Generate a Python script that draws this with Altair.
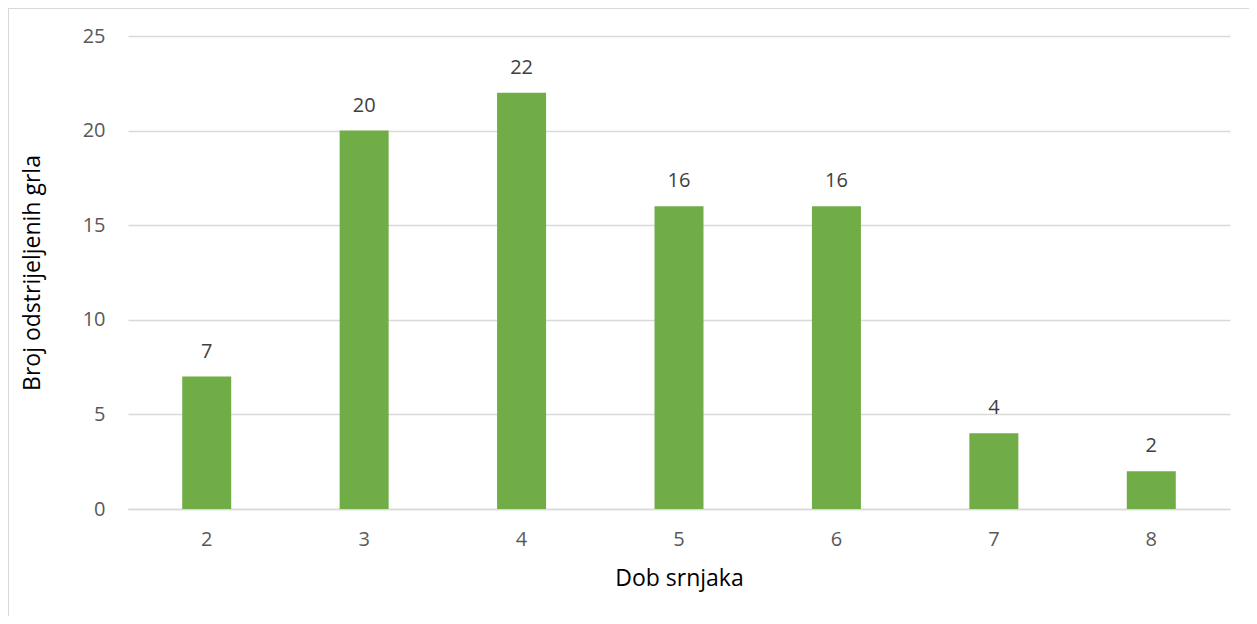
import altair as alt
import pandas as pd

ages = ["2", "3", "4", "5", "6", "7", "8"]
counts = [7, 20, 22, 16, 16, 4, 2]

df = pd.DataFrame({"dob": ages, "broj": counts})
FONT = "Open Sans"

base = alt.Chart(df).encode(
    x=alt.X("dob:N", sort=ages, title="Dob srnjaka",
            scale=alt.Scale(paddingInner=0.69, paddingOuter=0.345),
            axis=alt.Axis(labelAngle=0, labelFontSize=20, labelColor="#595959",
                          labelPadding=20, ticks=False, domainColor="#d9d9d9",
                          domainWidth=1.3, titleFontSize=23, titleColor="#000000",
                          titleFontWeight="normal", titleY=69, titleBaseline="middle")),
    y=alt.Y("broj:Q", title="Broj odstrijeljenih grla",
            scale=alt.Scale(domain=[0, 25]),
            axis=alt.Axis(values=[0, 5, 10, 15, 20, 25], domain=False, ticks=False,
                          labelFontSize=20, labelColor="#595959", labelPadding=23,
                          gridColor="#d9d9d9", gridWidth=1.3, titleFontSize=23,
                          titleColor="#000000", titleFontWeight="normal",
                          titleX=-96, titleY=236.5, titleAngle=-90,
                          titleBaseline="middle", titleAlign="center")),
)

bars = base.mark_bar(color="#70AD47", size=49)
labels = base.mark_text(baseline="alphabetic", dy=-19, fontSize=20,
                        color="#404040", font=FONT).encode(text="broj:Q")

border = alt.Chart(pd.DataFrame({"k": [0]})).mark_rect(
    fill=None, stroke="#d9d9d9", strokeWidth=2
).encode(x=alt.value(-120), x2=alt.value(1140), y=alt.value(-28), y2=alt.value(600))

chart = alt.layer(border, bars, labels).properties(
    width=1102, height=473,
    autosize=alt.AutoSizeParams(type="none"),
    padding={"left": 120, "top": 28, "right": 19, "bottom": 107},
).configure_view(stroke=None).configure_axis(labelFont=FONT, titleFont=FONT)

chart.save("out.html", embed_options={"renderer": "svg", "actions": False})
